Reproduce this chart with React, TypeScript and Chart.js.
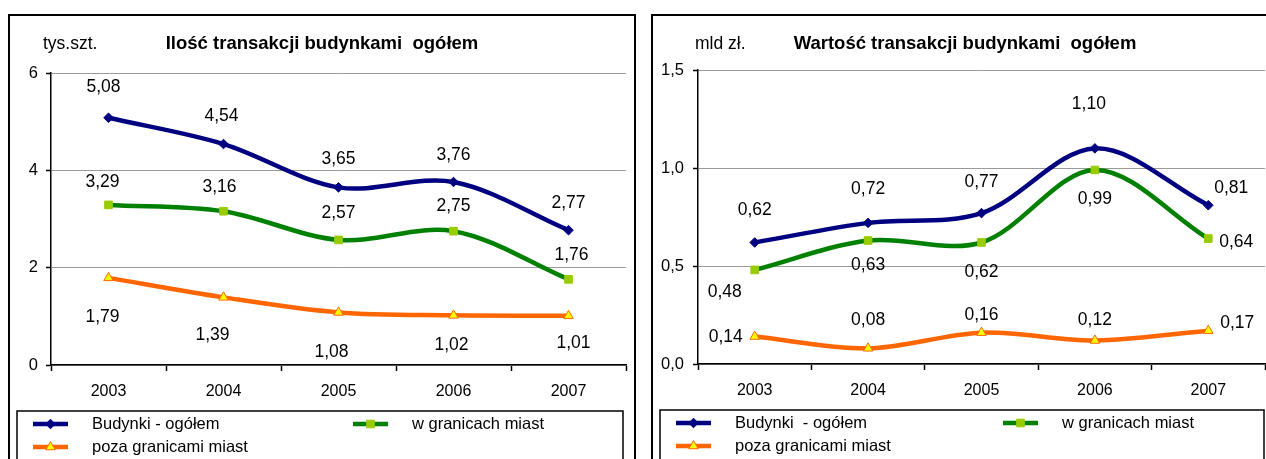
import React, { useEffect, useLayoutEffect, useRef } from 'react';
import { Chart, registerables } from 'chart.js';

Chart.register(...registerables);

const FONT = '"Liberation Sans", Arial, Helvetica, sans-serif';

// ---- data ----
const categories = ['2003', '2004', '2005', '2006', '2007'];

const countTotal = [5.08, 4.54, 3.65, 3.76, 2.77];
const countUrban = [3.29, 3.16, 2.57, 2.75, 1.76];
const countRural = [1.79, 1.39, 1.08, 1.02, 1.01];
const countTicks = [0, 2, 4, 6];

const valueTotal = [0.62, 0.72, 0.77, 1.1, 0.81];
const valueUrban = [0.48, 0.63, 0.62, 0.99, 0.64];
const valueRural = [0.14, 0.08, 0.16, 0.12, 0.17];
const valueTicks = [0, 0.5, 1.0, 1.5];

const namesLeft = ['Budynki - ogółem', 'w granicach miast', 'poza granicami miast'];
const namesRight = ['Budynki  - ogółem', 'w granicach miast', 'poza granicami miast'];

// ---- styles ----
const seriesStyles = [
  { line: '#000080', point: 'rectRot', fill: '#000080', stroke: '#000080', radius: 4.8 },
  { line: '#008000', point: 'rect', fill: '#99CC00', stroke: '#99CC00', radius: 5.4 },
  { line: '#FF6600', point: 'triangle', fill: '#FFFF00', stroke: '#FF6600', radius: 5.5 },
];

// label placement relative to each point [dx, dy]
const leftLabelOffsets = [
  [[-5, -31], [-2, -28], [0, -28], [0, -27], [0, -27]],
  [[-6, -23], [-4, -24], [0, -27], [0, -25], [3, -24]],
  [[-6, 39], [-11, 38], [-7, 40], [-2, 30], [5, 27]],
];
const rightLabelOffsets = [
  [[0, -32], [0, -34], [0, -31], [-6, -44], [23, -17]],
  [[-30, 22], [0, 25], [0, 30], [0, 29], [28, 4]],
  [[-29, 1], [0, -28], [0, -17], [0, -20], [29, -8]],
];

const fmt2 = (v: number) => v.toFixed(2).replace('.', ',');

function drawMarker(ctx: CanvasRenderingContext2D, style: string, x: number, y: number, r: number, fill: string, stroke: string) {
  ctx.save();
  ctx.beginPath();
  if (style === 'rectRot') {
    ctx.moveTo(x, y - r);
    ctx.lineTo(x + r, y);
    ctx.lineTo(x, y + r);
    ctx.lineTo(x - r, y);
    ctx.closePath();
  } else if (style === 'rect') {
    const s = r * Math.SQRT1_2;
    ctx.rect(x - s, y - s, 2 * s, 2 * s);
  } else {
    ctx.moveTo(x, y - r);
    ctx.lineTo(x + r * 0.866, y + r * 0.5);
    ctx.lineTo(x - r * 0.866, y + r * 0.5);
    ctx.closePath();
  }
  ctx.fillStyle = fill;
  ctx.fill();
  ctx.lineWidth = 1;
  ctx.strokeStyle = stroke;
  ctx.stroke();
  ctx.restore();
}

type PanelCfg = {
  key: string;
  title: string;
  unit: string;
  unitDx: number;
  names: string[];
  series: number[][];
  ticks: number[];
  decimals: number;
  labelOffsets: number[][][];
  chartLeft: number;
  padTop: number;
  padRight: number;
  padBottom: number;
  legendLeft: number;
  legendTop: number;
  legendWidth: number;
  legendCol2: number;
  tickPad: number;
};

function makeOverlay(cfg: PanelCfg) {
  return {
    id: 'overlay_' + cfg.key,
    afterDraw(chart: any) {
      const ctx: CanvasRenderingContext2D = chart.ctx;
      ctx.save();
      ctx.fillStyle = '#000';
      ctx.textBaseline = 'middle';
      // title
      ctx.textAlign = 'center';
      ctx.font = `bold 18.5px ${FONT}`;
      ctx.fillText(cfg.title, chart.width / 2, 28);
      // unit
      ctx.textAlign = 'left';
      ctx.font = `17.5px ${FONT}`;
      ctx.fillText(cfg.unit, chart.chartArea.left + cfg.unitDx, 28);
      // data labels
      ctx.textAlign = 'center';
      ctx.font = `17.5px ${FONT}`;
      chart.data.datasets.forEach((ds: any, di: number) => {
        const meta = chart.getDatasetMeta(di);
        meta.data.forEach((pt: any, i: number) => {
          const off = cfg.labelOffsets[di][i];
          ctx.fillText(fmt2(ds.data[i]), pt.x + off[0], pt.y + off[1]);
        });
      });
      // legend
      const bx = cfg.legendLeft;
      const by = cfg.legendTop;
      ctx.strokeStyle = '#000';
      ctx.lineWidth = 1.5;
      ctx.strokeRect(bx, by, cfg.legendWidth, 200);
      ctx.font = `16.5px ${FONT}`;
      ctx.textAlign = 'left';
      chart.data.datasets.forEach((ds: any, di: number) => {
        const st = seriesStyles[di];
        const col = di === 1 ? 1 : 0;
        const row = di === 2 ? 1 : 0;
        const x0 = bx + (col ? cfg.legendCol2 : 0);
        const y = by + 13 + row * 23;
        ctx.save();
        ctx.strokeStyle = st.line;
        ctx.lineWidth = 4.5;
        ctx.beginPath();
        ctx.moveTo(x0 + 16, y);
        ctx.lineTo(x0 + 51, y);
        ctx.stroke();
        ctx.restore();
        drawMarker(ctx, st.point, x0 + 33.5, y, st.radius, st.fill, st.stroke);
        ctx.fillStyle = '#000';
        ctx.fillText(ds.label, x0 + 75, y);
      });
      ctx.restore();
    },
  };
}

function Panel({ cfg, left }: { cfg: PanelCfg; left: number }) {
  const ref = useRef<HTMLCanvasElement>(null);
  useEffect(() => {
    const chart = new Chart(ref.current as HTMLCanvasElement, {
      type: 'line',
      data: {
        labels: categories,
        datasets: cfg.series.map((d, i) => {
          const st = seriesStyles[i];
          return {
            label: cfg.names[i],
            data: d,
            borderColor: st.line,
            borderWidth: 4.5,
            tension: 0.33,
            borderJoinStyle: 'round',
            borderCapStyle: 'round',
            pointStyle: st.point,
            pointRadius: st.radius,
            pointBackgroundColor: st.fill,
            pointBorderColor: st.stroke,
            pointBorderWidth: 1,
            fill: false,
          } as any;
        }),
      },
      options: {
        responsive: false,
        animation: false,
        events: [],
        layout: { padding: { top: cfg.padTop, left: 0, right: cfg.padRight, bottom: cfg.padBottom } },
        plugins: {
          legend: { display: false },
          title: { display: false },
          tooltip: { enabled: false },
        },
        scales: {
          x: {
            type: 'category',
            offset: true,
            grid: {
              offset: true,
              drawOnChartArea: false,
              drawTicks: true,
              tickLength: 6,
              tickColor: '#000',
              tickWidth: 1.5,
            },
            border: { display: true, color: '#000', width: 1.5 },
            ticks: {
              color: '#000',
              font: { family: FONT, size: 16 },
              padding: 11,
              maxRotation: 0,
              autoSkip: false,
            },
            afterFit: (s: any) => {
              s.height = 40;
            },
          },
          y: {
            min: cfg.ticks[0],
            max: cfg.ticks[cfg.ticks.length - 1],
            afterBuildTicks: (s: any) => {
              s.ticks = cfg.ticks.map((v) => ({ value: v }));
            },
            grid: {
              color: '#9a9a9a',
              lineWidth: 1,
              drawTicks: true,
              tickLength: 5,
              tickColor: '#000',
              tickWidth: 1.5,
            },
            border: { display: true, color: '#000', width: 1.5 },
            ticks: {
              color: '#000',
              font: { family: FONT, size: 16.5 },
              padding: cfg.tickPad,
              callback: (v: any) => Number(v).toFixed(cfg.decimals).replace('.', ','),
            },
            afterFit: (s: any) => {
              s.width = cfg.chartLeft;
            },
          },
        },
      } as any,
      plugins: [makeOverlay(cfg)],
    });
    return () => chart.destroy();
  }, []);
  return (
    <div
      style={{
        position: 'absolute',
        left,
        top: 14,
        width: 628,
        height: 470,
        border: '2px solid #000',
        boxSizing: 'border-box',
        background: '#fff',
      }}
    >
      <canvas ref={ref} width={624} height={460} style={{ display: 'block' }} />
    </div>
  );
}

const leftCfg: PanelCfg = {
  key: 'count',
  title: 'Ilość transakcji budynkami  ogółem',
  unit: 'tys.szt.',
  unitDx: -8,
  names: namesLeft,
  series: [countTotal, countUrban, countRural],
  ticks: countTicks,
  decimals: 0,
  labelOffsets: leftLabelOffsets,
  chartLeft: 41,
  padTop: 57,
  padRight: 8,
  padBottom: 71,
  legendLeft: 7,
  legendTop: 395,
  legendWidth: 606,
  legendCol2: 320,
  tickPad: 8,
};

const rightCfg: PanelCfg = {
  key: 'value',
  title: 'Wartość transakcji budynkami  ogółem',
  unit: 'mld zł.',
  unitDx: -3,
  names: namesRight,
  series: [valueTotal, valueUrban, valueRural],
  ticks: valueTicks,
  decimals: 1,
  labelOffsets: rightLabelOffsets,
  chartLeft: 45,
  padTop: 54,
  padRight: 12,
  padBottom: 72,
  legendLeft: 7,
  legendTop: 394,
  legendWidth: 604,
  legendCol2: 327,
  tickPad: 9,
};

export default function App() {
  useLayoutEffect(() => {
    document.body.style.margin = '0';
    document.documentElement.style.overflow = 'hidden';
    document.body.style.overflow = 'hidden';
  }, []);
  return (
    <div
      style={{
        position: 'relative',
        width: 1266,
        height: 459,
        overflow: 'hidden',
        background: '#fff',
      }}
    >
      <Panel cfg={leftCfg} left={8} />
      <Panel cfg={rightCfg} left={651} />
    </div>
  );
}
